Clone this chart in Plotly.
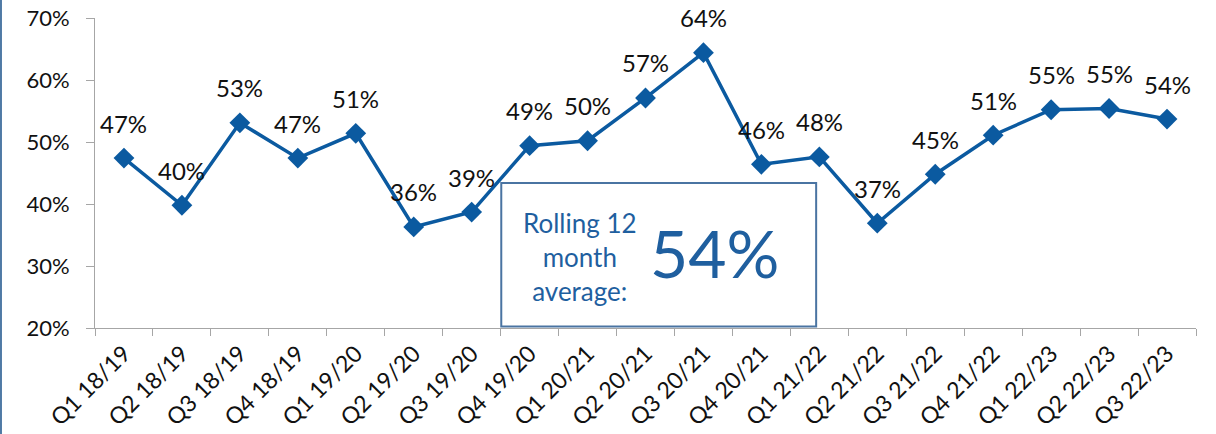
import plotly.graph_objects as go

quarters = ["Q1 18/19", "Q2 18/19", "Q3 18/19", "Q4 18/19", "Q1 19/20", "Q2 19/20",
            "Q3 19/20", "Q4 19/20", "Q1 20/21", "Q2 20/21", "Q3 20/21", "Q4 20/21",
            "Q1 21/22", "Q2 21/22", "Q3 21/22", "Q4 21/22", "Q1 22/23", "Q2 22/23",
            "Q3 22/23"]
rate = [47.4, 39.8, 53.1, 47.4, 51.4, 36.3, 38.7, 49.4, 50.2, 57.1, 64.4, 46.4,
        47.6, 36.9, 44.8, 51.1, 55.2, 55.4, 53.7]
y_ticks = [20, 30, 40, 50, 60, 70]
rolling_label = "Rolling 12<br>month<br>average:"
rolling_value = "54%"

LINE = "#0b5aa0"
TEXT_BLUE = "#1f5f9f"
AXIS = "#a6a6a6"
FONT = "Lato, 'Open Sans', sans-serif"

fig = go.Figure()
fig.add_trace(go.Scatter(
    x=quarters, y=rate, mode="lines+markers",
    line=dict(color=LINE, width=3.5),
    marker=dict(symbol="diamond", size=16, color=LINE),
    hoverinfo="skip", showlegend=False,
))

for q, v in zip(quarters, rate):
    fig.add_annotation(x=q, y=v, text=f"{v:.0f}%", showarrow=False,
                       yshift=35, font=dict(family=FONT, size=24, color="#111111"))

# Rolling average box
fig.add_shape(type="rect", xref="paper", yref="paper",
              x0=0.369, x1=0.655, y0=0.005, y1=0.468,
              line=dict(color="#4a74a2", width=2), fillcolor="white", layer="above")
fig.add_annotation(xref="paper", yref="paper", x=0.4405, y=0.23,
                   xanchor="center", yanchor="middle",
                   text=rolling_label, showarrow=False,
                   font=dict(family=FONT, size=26, color=TEXT_BLUE))
fig.add_annotation(xref="paper", yref="paper", x=0.563, y=0.245,
                   xanchor="center", yanchor="middle",
                   text=rolling_value, showarrow=False,
                   font=dict(family=FONT, size=66, color=TEXT_BLUE))

# Left frame edge
fig.add_shape(type="line", xref="paper", yref="paper",
              x0=-0.0854, x1=-0.0854, y0=-0.36, y1=1.07,
              line=dict(color="#4f7aa5", width=2))

fig.update_layout(
    width=1216, height=434,
    margin=dict(l=95, r=20, t=18, b=106),
    paper_bgcolor="white", plot_bgcolor="white",
    font=dict(family=FONT, size=22, color="#111111"),
    xaxis=dict(type="category", range=[-0.5, len(quarters) - 0.5],
               tickson="boundaries", ticks="outside", ticklen=7,
               tickcolor=AXIS, showline=True, linecolor=AXIS, linewidth=1,
               showgrid=False, tickangle=-45, zeroline=False, automargin=False,
               ticklabelstandoff=2,
               tickfont=dict(family=FONT, size=23, color="#111111")),
    yaxis=dict(range=[20, 70], tickvals=y_ticks, ticktext=[f"{t}%" for t in y_ticks],
               ticks="outside", ticklen=8, tickcolor=AXIS, showline=True,
               linecolor=AXIS, linewidth=1, showgrid=False, zeroline=False,
               ticklabelstandoff=12, automargin=False,
               tickfont=dict(family=FONT, size=22, color="#111111")),
)

fig.write_html("out.html", config={"displayModeBar": False},
               post_script="document.body.style.margin='0';")
